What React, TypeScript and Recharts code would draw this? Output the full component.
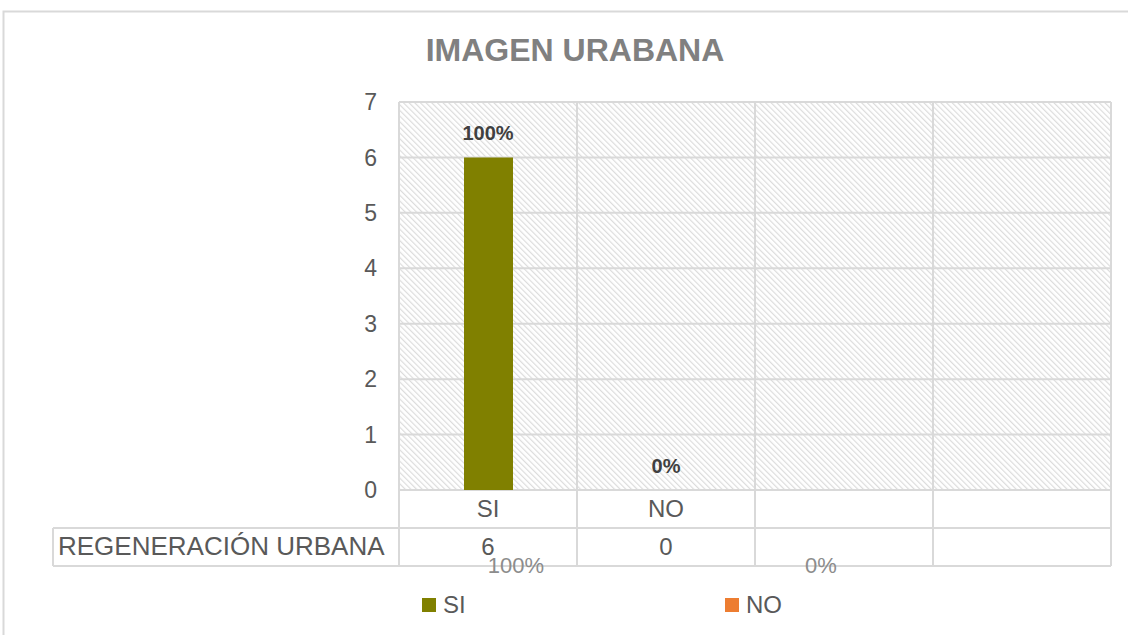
import React from "react";
import { ComposedChart, Bar, Line, XAxis, YAxis, CartesianGrid, Cell, LabelList } from "recharts";

// data
const categories = ["SI", "NO", "", ""];
const regeneracion = [6, 0, null, null];
const pctLabels = ["100%", "0%", "", ""];
const tableValues = ["6", "0", "", ""];
const seriesName = "REGENERACIÓN URBANA";
const yTicks = [0, 1, 2, 3, 4, 5, 6, 7];
const barColors = ["#808000", "#ED7D31"];
const legendItems = ["SI", "NO"];
const strayPct = ["100%", "0%"];

const data = categories.map((c, i) => ({ name: c, value: regeneracion[i], pct: pctLabels[i] }));

const FONT = "'Liberation Sans', Arial, sans-serif";
const GRID = "#d9d9d9";
const TEXT = "#595959";

const PLOT_TOP = 102;
const PLOT_BOTTOM = 490;
const ROW1 = 528;
const ROW2 = 566;
const LABEL_LEFT = 53;

function TableTick(props: any) {
  const { x, payload, index, visibleTicksCount, width } = props;
  const n = visibleTicksCount || 4;
  const w = (width || 712) / n;
  const l = x - w / 2;
  const r = x + w / 2;
  return (
    <g>
      <line x1={l} x2={l} y1={PLOT_TOP} y2={ROW2} stroke={GRID} strokeWidth={2} />
      {index === n - 1 && <line x1={r} x2={r} y1={PLOT_TOP} y2={ROW2} stroke={GRID} strokeWidth={2} />}
      <line x1={l} x2={r} y1={ROW1} y2={ROW1} stroke={GRID} strokeWidth={2} />
      <line x1={l} x2={r} y1={ROW2} y2={ROW2} stroke={GRID} strokeWidth={2} />
      <text x={x} y={517} textAnchor="middle" fill={TEXT} fontSize={24} fontFamily={FONT}>
        {payload.value}
      </text>
      <text x={x} y={555} textAnchor="middle" fill={TEXT} fontSize={24} fontFamily={FONT}>
        {tableValues[index]}
      </text>
      {index === 0 && (
        <g>
          <line x1={LABEL_LEFT} x2={l} y1={ROW1} y2={ROW1} stroke={GRID} strokeWidth={2} />
          <line x1={LABEL_LEFT} x2={l} y1={ROW2} y2={ROW2} stroke={GRID} strokeWidth={2} />
          <line x1={LABEL_LEFT} x2={LABEL_LEFT} y1={ROW1} y2={ROW2} stroke={GRID} strokeWidth={2} />
          <text x={58} y={555} fill={TEXT} fontSize={26} fontFamily={FONT}>
            {seriesName}
          </text>
        </g>
      )}
    </g>
  );
}

function PctLabel(props: any) {
  const { x, y, width, value } = props;
  if (!value || y == null || isNaN(y)) return null;
  return (
    <text x={x + (width || 0) / 2} y={y - 17} textAnchor="middle" fill="#404040" fontSize={20} fontWeight="bold" fontFamily={FONT}>
      {value}
    </text>
  );
}

export default function App() {
  return (
    <div style={{ position: "absolute", left: 0, top: 0, width: 1128, height: 635, background: "#fff", overflow: "hidden" }}>
      <svg width={0} height={0} style={{ position: "absolute" }}>
        <defs>
          <pattern id="hatch" patternUnits="userSpaceOnUse" width={4} height={4} patternTransform="rotate(-45)">
            <rect x={0} y={0} width={4} height={4} fill="#ffffff" />
            <rect x={0} y={0} width={1.2} height={4} fill="#dcdcdc" />
          </pattern>
        </defs>
      </svg>
      <ComposedChart
        width={1128}
        height={635}
        data={data}
        margin={{ top: PLOT_TOP, right: 17, bottom: 635 - PLOT_BOTTOM - 76, left: 339 }}
      >
        <CartesianGrid vertical={false} stroke={GRID} strokeWidth={2} fill="url(#hatch)" fillOpacity={1} />
        <YAxis
          domain={[0, 7]}
          ticks={yTicks}
          width={60}
          axisLine={false}
          tickLine={false}
          tickMargin={16}
          tick={{ fill: TEXT, fontSize: 23, fontFamily: FONT }}
        />
        <XAxis dataKey="name" height={76} interval={0} axisLine={false} tickLine={false} tick={<TableTick />} />
        <Bar dataKey="value" barSize={49} isAnimationActive={false}>
          {data.map((_, i) => (
            <Cell key={i} fill={barColors[i % barColors.length]} />
          ))}
        </Bar>
        <Line dataKey="value" stroke="none" dot={false} activeDot={false} isAnimationActive={false} legendType="none">
          <LabelList dataKey="pct" content={<PctLabel />} />
        </Line>
      </ComposedChart>
      <div
        style={{
          position: "absolute",
          top: 591,
          left: 422,
          display: "flex",
          fontFamily: FONT,
          fontSize: 24,
          color: TEXT,
          lineHeight: "28px",
        }}
      >
        {legendItems.map((name, i) => (
          <div key={name} style={{ width: 303, display: "flex", alignItems: "center" }}>
            <span style={{ width: 14, height: 14, background: barColors[i], display: "inline-block", marginRight: 7 }} />
            <span>{name}</span>
          </div>
        ))}
      </div>
      <svg width={1128} height={635} style={{ position: "absolute", left: 0, top: 0, pointerEvents: "none" }}>
        <rect x={3.5} y={11.5} width={1140} height={640} fill="none" stroke={GRID} strokeWidth={2} />
        <text x={575} y={61} textAnchor="middle" fill="#808080" fontSize={32} fontWeight="bold" fontFamily={FONT}>
          IMAGEN URABANA
        </text>
        <text x={516} y={573} textAnchor="middle" fill="#8c8c8c" fontSize={22} fontFamily={FONT}>
          {strayPct[0]}
        </text>
        <text x={821} y={573} textAnchor="middle" fill="#8c8c8c" fontSize={22} fontFamily={FONT}>
          {strayPct[1]}
        </text>
      </svg>
    </div>
  );
}
